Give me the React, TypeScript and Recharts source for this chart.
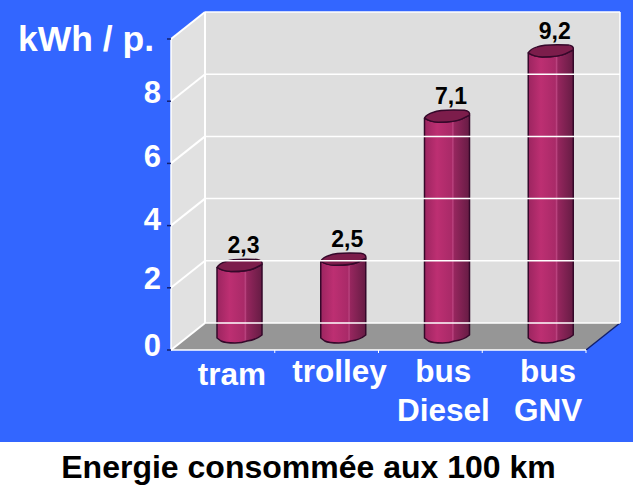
import { BarChart, Bar, XAxis, YAxis, ReferenceArea, ReferenceLine, LabelList } from 'recharts'

const categories = [['tram'], ['trolley'], ['bus', 'Diesel'], ['bus', 'GNV']]
const values = [2.3, 2.5, 7.1, 9.2]
const yTicks = [0, 2, 4, 6, 8, 10]
const yTickLabels = ['0', '2', '4', '6', '8', 'kWh / p.']
const title = 'Energie consommée aux 100 km'

const chartData = categories.map((lines, i) => ({ name: lines.join(' '), value: values[i] }))

// the labels in the original were placed by hand, so they don't sit evenly
const yTickNudge = [6, 1, 4, 4, 2, 12]
const xTickNudge = [[-4, 3], [0, 0], [0, 0], [1, 0]]

// depth of the fake 3d box, and how far the bars sit inside it
const DX = 34
const DY = -27
const BAR_DX = 17
const BAR_DY = -12
const FONT = 'Liberation Sans, Arial, sans-serif'

function Box({ x, y, width, height }: any) {
  const r = x + width
  const b = y + height
  return (
    <g>
      <polygon points={`${x},${y} ${x + DX},${y + DY} ${x + DX},${b + DY} ${x},${b}`} fill="#e1e1e1" />
      <rect x={x + DX} y={y + DY} width={width} height={height} fill="#dedede" />
      <polygon points={`${x},${b} ${r},${b} ${r + DX},${b + DY} ${x + DX},${b + DY}`} fill="#969696" />
      <line x1={r} y1={b} x2={r + DX} y2={b + DY} stroke="#12206e" strokeWidth={1.5} />
      <line x1={x + DX} y1={y + DY} x2={x + DX} y2={b + DY} stroke="#fff" strokeWidth={2} />
      <line x1={r + DX} y1={y + DY} x2={r + DX} y2={b + DY} stroke="#fff" strokeWidth={1.5} />
      <line x1={x} y1={y} x2={x} y2={b} stroke="#fff" strokeWidth={1.5} />
    </g>
  )
}

function GridLine({ x1, y1, x2, y2 }: any) {
  return (
    <g>
      <line x1={x1} y1={y1} x2={x1 + DX} y2={y1 + DY} stroke="#fff" strokeWidth={2} />
      <line x1={x1 + DX} y1={y1 + DY} x2={x2 + DX} y2={y2 + DY} stroke="#fff" strokeWidth={1.5} />
    </g>
  )
}

function Cylinder({ x, y, width, height, index }: any) {
  const l = x + BAR_DX
  const r = l + width
  const top = y + BAR_DY
  const bottom = y + height + BAR_DY
  const id = `cyl${index}`
  const front = `Q${l + 6},${top + 5} ${l + 14},${top + 5} Q${r - 14},${top + 5} ${r - 8},${top + 2} L${r},${top - 2}`
  const face = `M${l},${top + 1} ${front} Q${r + 1},${top - 6} ${r - 5},${top - 7} Q${l + 16},${top - 8} ${l + 9},${top - 5} Q${l + 2},${top - 3} ${l},${top + 1} Z`
  const body = `M${l},${top + 1} ${front} L${r},${bottom - 3} Q${r - 6},${bottom + 2} ${r - 15},${bottom + 3} Q${r - 20},${bottom + 5} ${l + 18},${bottom + 5} Q${l + 8},${bottom + 5} ${l + 4},${bottom + 3} L${l},${bottom} Z`
  return (
    <g>
      <defs>
        <linearGradient id={id} x1="0" y1="0" x2="1" y2="0">
          <stop offset="0" stopColor="#9c2560" />
          <stop offset="0.28" stopColor="#bd2f72" />
          <stop offset="0.6" stopColor="#a92a68" />
          <stop offset="0.63" stopColor="#bb4480" />
          <stop offset="0.66" stopColor="#96265e" />
          <stop offset="1" stopColor="#661c44" />
        </linearGradient>
      </defs>
      <path d={body} fill={`url(#${id})`} stroke="#35082a" strokeWidth={1.5} strokeLinejoin="round" />
      <path d={face} fill="#7c1d4b" stroke="#35082a" strokeWidth={1.5} strokeLinejoin="round" />
    </g>
  )
}

function ValueLabel({ x, y, width, value }: any) {
  return (
    <text
      x={x + width / 2 + BAR_DX + 4}
      y={y + BAR_DY - 13}
      textAnchor="middle"
      fontFamily={FONT}
      fontWeight="bold"
      fontSize={23}
      fill="#000"
    >
      {String(value).replace('.', ',')}
    </text>
  )
}

function YTick({ x, y, index }: any) {
  const isUnit = index === yTicks.length - 1
  return (
    <text
      x={isUnit ? x - 11 : x - 4}
      y={y + yTickNudge[index]}
      textAnchor="end"
      fontFamily={FONT}
      fontWeight="bold"
      fontSize={isUnit ? 35.5 : 31}
      fill="#fff"
    >
      {yTickLabels[index]}
    </text>
  )
}

// axis ticks sit between the categories, so they are drawn here with the label
function XTick({ x, y, index, payload }: any) {
  const [dx, dy] = xTickNudge[index]
  const edge = x + payload.offset
  return (
    <g>
      <line x1={edge} y1={y - 5} x2={edge} y2={y - 2} stroke="#fff" strokeWidth={1} />
      <text textAnchor="middle" fontFamily={FONT} fontWeight="bold" fontSize={31.5} fill="#fff">
        {categories[index].map((line, i) => (
          <tspan key={line} x={x + 13 + dx} y={y + 27 + dy + i * 39}>
            {line}
          </tspan>
        ))}
      </text>
    </g>
  )
}

export default function App() {
  return (
    <div style={{ position: 'absolute', left: 0, top: 0, width: 633, height: 488, background: '#fff' }}>
      <div style={{ position: 'absolute', left: 0, top: 0, width: 633, height: 442, background: '#3366ff' }} />
      <div style={{ position: 'absolute', left: 0, top: 0 }}>
        <BarChart
          width={633}
          height={488}
          data={chartData}
          margin={{ top: 39, right: 47, left: 0, bottom: 0 }}
          barSize={45}
        >
          <ReferenceArea y1={0} y2={10} ifOverflow="visible" shape={Box} />
          {yTicks.map((t) => (
            <ReferenceLine key={t} y={t} ifOverflow="visible" shape={GridLine} />
          ))}
          <XAxis
            dataKey="name"
            height={138}
            interval={0}
            axisLine={{ stroke: '#fff', strokeWidth: 1.5 }}
            tickLine={false}
            tickSize={3}
            tick={XTick}
          />
          <YAxis
            width={171}
            domain={[0, 10]}
            ticks={yTicks}
            axisLine={false}
            tickLine={{ stroke: '#12206e', strokeWidth: 1.5 }}
            tickSize={4}
            tick={YTick}
          />
          <Bar dataKey="value" isAnimationActive={false} shape={Cylinder}>
            <LabelList dataKey="value" content={ValueLabel} />
          </Bar>
        </BarChart>
      </div>
      <div
        style={{
          position: 'absolute',
          left: 0,
          top: 449,
          width: 617,
          textAlign: 'center',
          fontFamily: FONT,
          fontWeight: 'bold',
          fontSize: 32,
          lineHeight: '36px',
          color: '#000',
        }}
      >
        {title}
      </div>
    </div>
  )
}
